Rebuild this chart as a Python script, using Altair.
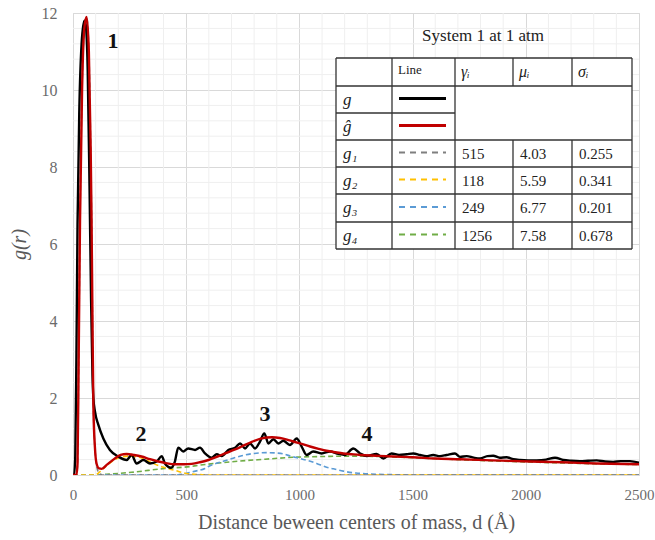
import altair as alt
import pandas as pd

# ---------------- data ----------------
g_d = [0, 5, 10, 15, 20, 28, 38, 50, 56, 65, 73, 80, 86, 90, 97, 112, 134, 163, 200, 237,
       259, 281, 311, 340, 370, 392, 406, 433, 450, 465, 487, 509, 539, 561, 583, 613, 635,
       657, 686, 716, 738, 760, 782, 804, 826, 845, 863, 885, 907, 929, 958, 988, 1010, 1032,
       1061, 1098, 1135, 1172, 1200, 1238, 1268, 1297, 1341, 1371, 1407, 1440, 1474, 1503,
       1533, 1560, 1591, 1621, 1650, 1687, 1709, 1739, 1770, 1798, 1830, 1856, 1885, 1915,
       1945, 1974, 2010, 2048, 2090, 2129, 2166, 2200, 2239, 2275, 2313, 2350, 2386, 2420,
       2460, 2500]
g_v = [0, 0, 0.5, 3.0, 6.5, 9.5, 11.2, 11.8, 11.7, 10.5, 7.5, 4.5, 2.6, 2.0, 1.65, 1.30, 0.95,
       0.65, 0.48, 0.39, 0.52, 0.30, 0.39, 0.30, 0.35, 0.49, 0.30, 0.19, 0.35, 0.71, 0.61, 0.69,
       0.65, 0.71, 0.56, 0.45, 0.54, 0.49, 0.65, 0.71, 0.82, 0.69, 0.82, 0.69, 0.87, 1.08, 0.82,
       0.93, 0.82, 0.89, 0.78, 0.95, 0.74, 0.52, 0.61, 0.56, 0.61, 0.55, 0.52, 0.69, 0.56, 0.49,
       0.55, 0.43, 0.56, 0.52, 0.54, 0.56, 0.52, 0.49, 0.52, 0.49, 0.52, 0.56, 0.47, 0.49, 0.45,
       0.43, 0.49, 0.50, 0.45, 0.46, 0.41, 0.39, 0.38, 0.38, 0.40, 0.45, 0.39, 0.37, 0.36, 0.37,
       0.38, 0.35, 0.34, 0.36, 0.36, 0.32]

ghat_d = [0, 15, 20, 25, 31, 40, 50, 60, 70, 78, 82, 86, 90, 97, 104, 115, 127, 150, 185, 210,
          237, 270, 303, 340, 377, 410, 450, 490, 524, 560, 598, 635, 671, 710, 745, 790, 833,
          880, 914, 945, 973, 1010, 1047, 1085, 1120, 1160, 1194, 1230, 1268, 1340, 1415, 1500,
          1600, 1709, 1850, 2019, 2160, 2313, 2500]
ghat_v = [0, 0, 0.3, 3.0, 6.6, 10.0, 11.6, 11.9, 11.0, 8.5, 6.6, 4.0, 1.8, 0.7, 0.3, 0.17, 0.16,
          0.27, 0.43, 0.52, 0.545, 0.52, 0.48, 0.41, 0.35, 0.31, 0.28, 0.28, 0.29, 0.33, 0.39,
          0.47, 0.56, 0.65, 0.74, 0.86, 0.95, 0.98, 0.96, 0.92, 0.87, 0.81, 0.74, 0.68, 0.63,
          0.59, 0.56, 0.54, 0.52, 0.50, 0.48, 0.46, 0.43, 0.41, 0.38, 0.35, 0.33, 0.30, 0.28]

g1_d = [0, 15, 20, 25, 31, 40, 50, 60, 70, 78, 82, 86, 90, 97, 104, 115, 130, 2500]
g1_v = [0, 0, 0.3, 3.0, 6.6, 10.0, 11.6, 11.9, 11.0, 8.5, 6.6, 4.0, 1.8, 0.7, 0.25, 0.05, 0, 0]

g2_d = [0, 100, 112, 150, 200, 250, 300, 350, 400, 450, 500, 560, 620, 2500]
g2_v = [0, 0, 0.05, 0.25, 0.44, 0.49, 0.45, 0.31, 0.20, 0.12, 0.04, 0.01, 0, 0]

g3_d = [0, 450, 500, 524, 583, 605, 671, 745, 800, 855, 900, 929, 960, 1003, 1076, 1120, 1150,
        1194, 1250, 1300, 1400, 1500, 2500]
g3_v = [0, 0, 0.04, 0.08, 0.17, 0.24, 0.37, 0.50, 0.56, 0.58, 0.57, 0.55, 0.49, 0.43, 0.30,
        0.20, 0.16, 0.10, 0.05, 0.03, 0.01, 0, 0]

g4_d = [0, 100, 150, 259, 406, 517, 553, 693, 848, 973, 1100, 1236, 1350, 1500, 1700, 2000,
        2250, 2500]
g4_v = [0, 0, 0.02, 0.07, 0.17, 0.22, 0.25, 0.34, 0.41, 0.46, 0.48, 0.49, 0.48, 0.45, 0.40,
        0.34, 0.30, 0.27]

row_labels = ["g", "ĝ", "g₁", "g₂", "g₃", "g₄"]
header_labels = ["γᵢ", "μᵢ", "σᵢ"]
gamma_vals = ["515", "118", "249", "1256"]
mu_vals = ["4.03", "5.59", "6.77", "7.58"]
sigma_vals = ["0.255", "0.341", "0.201", "0.678"]
peak_labels = ["1", "2", "3", "4"]

x_ticks = [0, 500, 1000, 1500, 2000, 2500]
y_ticks = [0, 2, 4, 6, 8, 10, 12]
x_minor = [v for v in range(100, 2500, 100) if v % 500 != 0]
y_minor = [round(i * 0.4, 1) for i in range(1, 30) if i % 5 != 0]

# ---------------- layout (pixel geometry of the reference) ----------------
X0_PX, X1_PX = 73, 639
Y0_PX, Y1_PX = 475, 13
W = X1_PX - X0_PX
H = Y0_PX - Y1_PX
XMAX, YMAX = 2500, 12


def dx(px):
    return (px - X0_PX) * XMAX / W


def gy(py):
    return (Y0_PX - py) * YMAX / H


SERIF = "Liberation Serif"
xs = alt.Scale(domain=[0, XMAX], nice=False, zero=False)
ys = alt.Scale(domain=[0, YMAX], nice=False, zero=False)

# ---------------- minor grid ----------------
minor_x = alt.Chart(pd.DataFrame({"x": x_minor})).mark_rule(
    color="#efefef", strokeWidth=1
).encode(x=alt.X("x:Q", scale=xs))
minor_y = alt.Chart(pd.DataFrame({"y": y_minor})).mark_rule(
    color="#efefef", strokeWidth=1
).encode(y=alt.Y("y:Q", scale=ys))


def curve(d, v, color, width, dash=None):
    kw = dict(color=color, strokeWidth=width, interpolate="monotone", clip=True)
    if dash:
        kw["strokeDash"] = dash
    return alt.Chart(pd.DataFrame({"d": d, "v": v})).mark_line(**kw).encode(
        x=alt.X("d:Q", scale=xs,
                axis=alt.Axis(values=x_ticks, format="d",
                              title="Distance beween centers of mass, d (Å)")),
        y=alt.Y("v:Q", scale=ys, axis=alt.Axis(values=y_ticks, format="d", title="g(r)")),
    )


c_g4 = curve(g4_d, g4_v, "#70AD47", 1.6, [5, 3])
c_g3 = curve(g3_d, g3_v, "#5B9BD5", 1.6, [5, 3])
c_g2 = curve(g2_d, g2_v, "#FFC000", 1.6, [5, 3])
c_g1 = curve(g1_d, g1_v, "#7F7F7F", 1.6, [5, 3])
c_g = curve(g_d, g_v, "#000000", 2.4)
c_gh = curve(ghat_d, ghat_v, "#C00000", 2.4)

# ---------------- peak labels ----------------
peak_px = [(113, 41), (141, 434), (265, 414), (367, 434)]
peaks = pd.DataFrame({
    "x": [dx(p[0]) for p in peak_px],
    "y": [gy(p[1]) for p in peak_px],
    "t": peak_labels,
})
peak_text = alt.Chart(peaks).mark_text(
    font=SERIF, fontSize=22, fontWeight="bold", color="#111", align="center", baseline="middle"
).encode(x=alt.X("x:Q", scale=xs), y=alt.Y("y:Q", scale=ys), text="t:N")

# ---------------- table (legend) ----------------
cols = [336, 392, 455, 513, 572, 632]
rows = [58, 86, 113, 140, 167, 194, 222, 249]

bg = alt.Chart(pd.DataFrame({"x": [dx(cols[0])], "x2": [dx(cols[-1])],
                             "y": [gy(rows[0])], "y2": [gy(rows[-1])]})).mark_rect(
    fill="white"
).encode(x=alt.X("x:Q", scale=xs), x2="x2:Q", y=alt.Y("y:Q", scale=ys), y2="y2:Q")

h_lines = []
for i, r in enumerate(rows):
    right = cols[2] if i == 2 else cols[-1]
    h_lines.append({"x": dx(cols[0]), "x2": dx(right), "y": gy(r)})
v_lines = []
for j, c in enumerate(cols):
    if j in (3, 4):
        v_lines.append({"x": dx(c), "y": gy(rows[0]), "y2": gy(rows[1])})
        v_lines.append({"x": dx(c), "y": gy(rows[3]), "y2": gy(rows[-1])})
    else:
        v_lines.append({"x": dx(c), "y": gy(rows[0]), "y2": gy(rows[-1])})

hl = alt.Chart(pd.DataFrame(h_lines)).mark_rule(color="#333", strokeWidth=1.3).encode(
    x=alt.X("x:Q", scale=xs), x2="x2:Q", y=alt.Y("y:Q", scale=ys))
vl = alt.Chart(pd.DataFrame(v_lines)).mark_rule(color="#333", strokeWidth=1.3).encode(
    x=alt.X("x:Q", scale=xs), y=alt.Y("y:Q", scale=ys), y2="y2:Q")

row_c = [(rows[i] + rows[i + 1]) / 2 for i in range(len(rows) - 1)]

# legend line samples
sample_colors = ["#000000", "#C00000", "#7F7F7F", "#FFC000", "#5B9BD5", "#70AD47"]
samp = pd.DataFrame({
    "x": [dx(399)] * 6, "x2": [dx(446)] * 6,
    "y": [gy(row_c[i + 1] - 1) for i in range(6)],
    "c": sample_colors,
})
samp_solid = alt.Chart(samp.iloc[:2]).mark_rule(strokeWidth=3).encode(
    x=alt.X("x:Q", scale=xs), x2="x2:Q", y=alt.Y("y:Q", scale=ys),
    color=alt.Color("c:N", scale=None))
samp_dash = alt.Chart(samp.iloc[2:]).mark_rule(strokeWidth=2, strokeDash=[6, 5]).encode(
    x=alt.X("x:Q", scale=xs), x2="x2:Q", y=alt.Y("y:Q", scale=ys),
    color=alt.Color("c:N", scale=None))

# texts
ital = []
ital.append({"x": dx(cols[0] + 7), "y": gy(row_c[1]), "t": row_labels[0], "s": 17})
ital.append({"x": dx(cols[0] + 7), "y": gy(row_c[2]), "t": row_labels[1], "s": 17})
for k in range(4):
    ital.append({"x": dx(cols[0] + 7), "y": gy(row_c[3 + k]), "t": row_labels[2 + k], "s": 17})
for k in range(3):
    ital.append({"x": dx(cols[2 + k] + 6), "y": gy(row_c[0]), "t": header_labels[k], "s": 16})
reg = [{"x": dx(cols[1] + 6), "y": gy(row_c[0] - 2), "t": "Line", "s": 13}]
for k in range(4):
    reg.append({"x": dx(cols[2] + 7), "y": gy(row_c[3 + k]), "t": gamma_vals[k], "s": 15})
    reg.append({"x": dx(cols[3] + 7), "y": gy(row_c[3 + k]), "t": mu_vals[k], "s": 15})
    reg.append({"x": dx(cols[4] + 7), "y": gy(row_c[3 + k]), "t": sigma_vals[k], "s": 15})

t_ital = alt.Chart(pd.DataFrame(ital)).mark_text(
    font=SERIF, fontStyle="italic", color="#222", align="left", baseline="middle"
).encode(x=alt.X("x:Q", scale=xs), y=alt.Y("y:Q", scale=ys), text="t:N",
         size=alt.Size("s:Q", scale=None))
t_reg = alt.Chart(pd.DataFrame(reg)).mark_text(
    font=SERIF, color="#222", align="left", baseline="middle"
).encode(x=alt.X("x:Q", scale=xs), y=alt.Y("y:Q", scale=ys), text="t:N",
         size=alt.Size("s:Q", scale=None))

title_t = alt.Chart(pd.DataFrame({"x": [dx(483)], "y": [gy(36)], "t": ["System 1 at 1 atm"]})).mark_text(
    font=SERIF, fontSize=17, color="#222", align="center", baseline="middle"
).encode(x=alt.X("x:Q", scale=xs), y=alt.Y("y:Q", scale=ys), text="t:N")

chart = alt.layer(
    minor_x, minor_y, c_g4, c_g3, c_g2, c_g1, c_g, c_gh, peak_text,
    bg, hl, vl, samp_solid, samp_dash, t_ital, t_reg, title_t
).properties(
    width=W, height=H,
    autosize=alt.AutoSizeParams(type="none"),
    padding={"left": X0_PX, "top": Y1_PX, "right": 655 - X1_PX, "bottom": 540 - Y0_PX},
).configure_view(
    stroke="#d9d9d9", strokeWidth=1
).configure_axis(
    grid=True, gridColor="#d9d9d9", gridWidth=1, domain=False, ticks=False,
    labelFont=SERIF, labelFontSize=16, labelColor="#6b6b6b",
    titleFont=SERIF, titleFontSize=20, titleColor="#595959", titleFontWeight="normal",
).configure_axisX(
    labelPadding=12, titlePadding=10, labelFlush=False, labelFontSize=15,
).configure_axisY(
    labelPadding=16, titlePadding=12, titleFontStyle="italic",
)

chart.save("out.html", embed_options={"renderer": "svg", "actions": False})
